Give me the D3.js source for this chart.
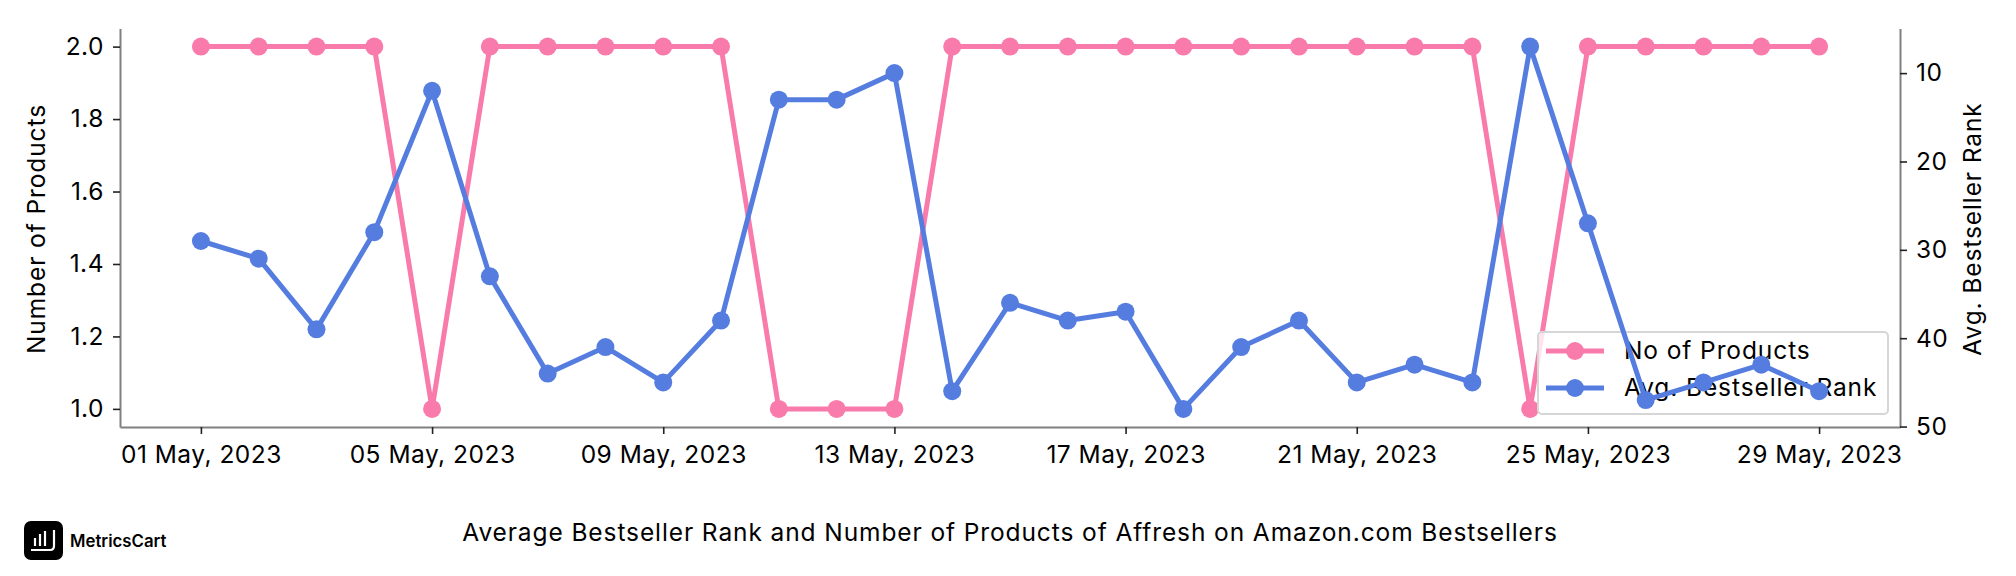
<!DOCTYPE html>
<html>
<head>
<meta charset="utf-8">
<script src="https://cdn.jsdelivr.net/npm/d3@7"></script>
<style>
  html, body { margin: 0; padding: 0; background: #fff; }
  svg text { font-family: Inter, "Noto Sans", sans-serif; fill: #000; }
  .axis text { font-size: 24.5px; letter-spacing: 0.5px; }
  .label { font-size: 24.5px; letter-spacing: 0.9px; }
  .axis .domain { stroke: #808080; stroke-width: 2; }
  .axis .tick line { stroke: #222; stroke-width: 1.6; }
</style>
</head>
<body>
<div id="chart"></div>
<script>
// values
var days = [1,2,3,4,5,6,7,8,9,10,11,12,13,14,15,16,17,18,19,20,21,22,23,24,25,26,27,28,29];
var products = [2,2,2,2,1,2,2,2,2,2,1,1,1,2,2,2,2,2,2,2,2,2,2,1,2,2,2,2,2];
var ranks = [29,31,39,28,12,33,44,41,45,38,13,13,10,46,36,38,37,48,41,38,45,43,45,7,27,47,45,43,46];
var xTickDays = [1,5,9,13,17,21,25,29];
var leftTicks = [1.0,1.2,1.4,1.6,1.8,2.0];
var rightTicks = [10,20,30,40,50];
var seriesNames = ["No of Products", "Avg. Bestseller Rank"];
var titleText = "Average Bestseller Rank and Number of Products of Affresh on Amazon.com Bestsellers";

var pink = "#f97bab";
var blue = "#557de0";

//chart parameters
var width = 2016;
var height = 576;
var margin = {top: 28.5, right: 116, bottom: 149, left: 120};

var svg = d3.select("#chart").append("svg")
  .attr("width", width)
  .attr("height", height)
  .style("display", "block");

var day = function(d) { return new Date(Date.UTC(2023, 4, d)); };

//matplotlib style 5% margins on the data range
var x = d3.scaleUtc()
  .domain([new Date(Date.UTC(2023, 4, 1) - 1.4 * 864e5), new Date(Date.UTC(2023, 4, 29) + 1.4 * 864e5)])
  .range([margin.left, width - margin.right]);

var yLeft = d3.scaleLinear()
  .domain([0.95, 2.05])
  .range([height - margin.bottom, margin.top]);

var yRight = d3.scaleLinear()
  .domain([50.05, 4.95])
  .range([height - margin.bottom, margin.top]);

//axes
var xAxis = d3.axisBottom(x)
  .tickValues(xTickDays.map(day))
  .tickFormat(d3.utcFormat("%d %b, %Y"))
  .tickSizeInner(7)
  .tickSizeOuter(0)
  .tickPadding(12);

var leftAxis = d3.axisLeft(yLeft)
  .tickValues(leftTicks)
  .tickFormat(d3.format(".1f"))
  .tickSizeInner(7)
  .tickSizeOuter(0)
  .tickPadding(9);

var rightAxis = d3.axisRight(yRight)
  .tickValues(rightTicks)
  .tickSizeInner(7)
  .tickSizeOuter(0)
  .tickPadding(9);

svg.append("g").attr("class", "axis")
  .attr("transform", "translate(0," + (height - margin.bottom) + ")")
  .call(xAxis);
svg.append("g").attr("class", "axis")
  .attr("transform", "translate(" + margin.left + ",0)")
  .call(leftAxis);
svg.append("g").attr("class", "axis")
  .attr("transform", "translate(" + (width - margin.right) + ",0)")
  .call(rightAxis);

//axis labels
svg.append("text")
  .attr("class", "label")
  .attr("transform", "translate(38,229) rotate(-90)")
  .attr("text-anchor", "middle")
  .attr("dominant-baseline", "middle")
  .text("Number of Products");
svg.append("text")
  .attr("class", "label")
  .attr("transform", "translate(1974,229) rotate(-90)")
  .attr("text-anchor", "middle")
  .attr("dominant-baseline", "middle")
  .text("Avg. Bestseller Rank");

function drawSeries(values, scale, color) {
  var line = d3.line()
    .x(function(d, i) { return x(day(days[i])); })
    .y(function(d) { return scale(d); });
  var g = svg.append("g");
  g.append("path")
    .datum(values)
    .attr("d", line)
    .attr("fill", "none")
    .attr("stroke", color)
    .attr("stroke-width", 5)
    .attr("stroke-linejoin", "round");
  g.selectAll("circle")
    .data(values)
    .enter().append("circle")
    .attr("cx", function(d, i) { return x(day(days[i])); })
    .attr("cy", function(d) { return scale(d); })
    .attr("r", 9)
    .attr("fill", color);
}

//pink goes under the legend, blue on top of it
drawSeries(products, yLeft, pink);

var legend = svg.append("g");
legend.append("rect")
  .attr("x", 1538).attr("y", 332)
  .attr("width", 350).attr("height", 82)
  .attr("rx", 4)
  .attr("fill", "#fff").attr("fill-opacity", 0.8)
  .attr("stroke", "#d6d6d6").attr("stroke-width", 2);

seriesNames.forEach(function(name, i) {
  var ly = 351 + i * 37;
  var c = i == 0 ? pink : blue;
  legend.append("line")
    .attr("x1", 1546).attr("x2", 1604)
    .attr("y1", ly).attr("y2", ly)
    .attr("stroke", c).attr("stroke-width", 5);
  legend.append("circle")
    .attr("cx", 1575).attr("cy", ly).attr("r", 9).attr("fill", c);
  legend.append("text")
    .attr("class", "label")
    .attr("x", 1624).attr("y", ly + 1)
    .attr("dominant-baseline", "middle")
    .text(name);
});

drawSeries(ranks, yRight, blue);

//title
svg.append("text")
  .attr("class", "label")
  .attr("x", 1010).attr("y", 534)
  .attr("text-anchor", "middle")
  .attr("dominant-baseline", "middle")
  .text(titleText);

//logo
var logo = svg.append("g").attr("transform", "translate(24,521)");
logo.append("rect").attr("width", 39).attr("height", 39).attr("rx", 7).attr("fill", "#000");
[[11,17,25],[16,13,25],[21,10,25]].forEach(function(b) {
  logo.append("line")
    .attr("x1", b[0]).attr("x2", b[0])
    .attr("y1", b[1]).attr("y2", b[2])
    .attr("stroke", "#fff").attr("stroke-width", 2.2);
});
logo.append("path")
  .attr("d", "M7,29 H26 Q30,29 30,25 V9")
  .attr("fill", "none").attr("stroke", "#fff").attr("stroke-width", 2.2);
svg.append("text")
  .attr("x", 70).attr("y", 542)
  .attr("dominant-baseline", "middle")
  .style("font-size", "16.8px")
  .style("font-weight", "600")
  .text("MetricsCart");
</script>
</body>
</html>
